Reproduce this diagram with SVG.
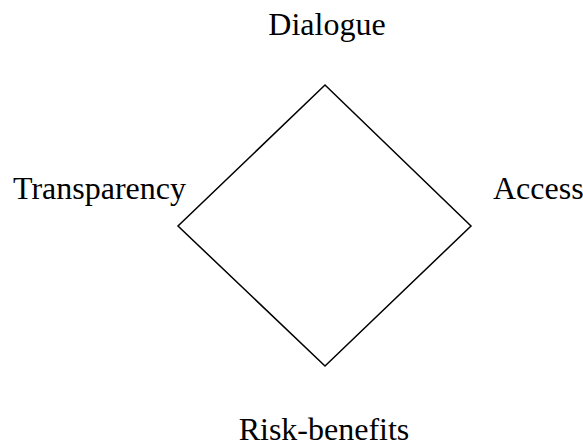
<svg xmlns="http://www.w3.org/2000/svg" width="583" height="448" viewBox="0 0 583 448">
<style>
text{font-family:"Liberation Serif","Times New Roman",serif;font-size:32px;fill:#000}
.edge{fill:none;stroke:#000;stroke-width:1.5}
</style>
<rect width="583" height="448" fill="#fff"/>
<g id="connectors">
<polygon class="edge" points="325,85 471,226 325,366 178,226"/>
</g>
<g id="dialogue"><text x="327" y="35" text-anchor="middle">Dialogue</text></g>
<g id="transparency"><text x="13" y="199">Transparency</text></g>
<g id="access"><text x="493" y="199">Access</text></g>
<g id="risk"><text x="324" y="440" text-anchor="middle">Risk-benefits</text></g>
</svg>
